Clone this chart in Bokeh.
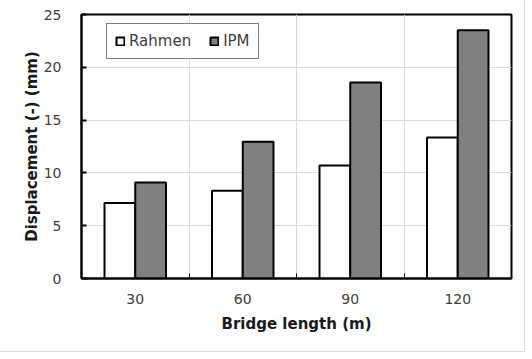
from bokeh.plotting import figure
from bokeh.models import ColumnDataSource, FixedTicker, Legend, LegendItem, Range1d
from bokeh.transform import dodge
from bokeh.embed import file_html
from bokeh.resources import INLINE

categories = ["30", "60", "90", "120"]
rahmen = [7.15, 8.3, 10.7, 13.35]
ipm = [9.1, 12.95, 18.55, 23.5]
y_ticks = [0, 5, 10, 15, 20, 25]

xpos = [i + 0.5 for i in range(len(categories))]
src = ColumnDataSource(dict(x=xpos, rahmen=rahmen, ipm=ipm))

FONT = "DejaVu Sans"

p = figure(width=524, height=351, output_backend="svg", toolbar_location=None,
           x_range=Range1d(0, len(categories)), y_range=Range1d(0, 25),
           min_border_left=81, min_border_right=13, min_border_top=14, min_border_bottom=73)
p.styles = {"outline": "1px solid #d9d9d9"}

bw = 0.286
r1 = p.vbar(x=dodge("x", -bw / 2), top="rahmen", width=bw, source=src,
            fill_color="white", line_color="black", line_width=2)
r2 = p.vbar(x=dodge("x", bw / 2), top="ipm", width=bw, source=src,
            fill_color="#808080", line_color="black", line_width=2)

p.outline_line_color = "black"
p.outline_line_width = 2
p.outline_line_alpha = 1

# x axis
xt = FixedTicker(ticks=xpos, minor_ticks=[1, 2, 3])
p.xaxis.ticker = xt
p.xaxis.major_label_overrides = {x: c for x, c in zip(xpos, categories)}
p.xaxis.major_tick_line_color = None
p.xaxis.minor_tick_in = 5
p.xaxis.minor_tick_out = 0
p.xaxis.minor_tick_line_color = "black"
p.xaxis.minor_tick_line_width = 1
p.xaxis.axis_line_color = "black"
p.xaxis.axis_line_width = 2
p.xaxis.major_label_standoff = 9
p.xaxis.axis_label = "Bridge length (m)"
p.xaxis.axis_label_standoff = 8

# y axis
p.yaxis.ticker = FixedTicker(ticks=y_ticks)
p.yaxis.major_tick_in = 5
p.yaxis.major_tick_out = 0
p.yaxis.minor_tick_line_color = None
p.yaxis.major_tick_line_color = "black"
p.yaxis.major_tick_line_width = 2
p.yaxis.axis_line_color = "black"
p.yaxis.axis_line_width = 2
p.yaxis.major_label_standoff = 20
p.yaxis.axis_label = "Displacement (-) (mm)"
p.yaxis.axis_label_standoff = 0

for ax in (p.xaxis, p.yaxis):
    ax.major_label_text_font = FONT
    ax.major_label_text_font_size = "14px"
    ax.major_label_text_color = "#404040"
    ax.axis_label_text_font = FONT
    ax.axis_label_text_font_size = "15px"
    ax.axis_label_text_font_style = "bold"
    ax.axis_label_text_color = "#1a1a1a"

p.xgrid.ticker = FixedTicker(ticks=[1, 2, 3])
p.ygrid.ticker = FixedTicker(ticks=[5, 10, 15, 20])
for g in (p.xgrid, p.ygrid):
    g.grid_line_color = "#d9d9d9"
    g.grid_line_width = 1

legend = Legend(items=[LegendItem(label="Rahmen", renderers=[r1]),
                       LegendItem(label="IPM", renderers=[r2])],
                location=(25, 219), orientation="horizontal")
legend.glyph_width = 10
legend.glyph_height = 10
legend.label_text_font = FONT
legend.label_text_font_size = "15px"
legend.label_text_color = "#404040"
legend.label_standoff = 4
legend.spacing = 18
legend.padding = 8
legend.margin = 0
legend.border_line_color = "black"
legend.border_line_width = 1
legend.background_fill_color = "white"
legend.background_fill_alpha = 1
p.add_layout(legend, "center")

p.background_fill_color = "white"
p.border_fill_color = "white"

open("out.html", "w").write(file_html(p, INLINE))
